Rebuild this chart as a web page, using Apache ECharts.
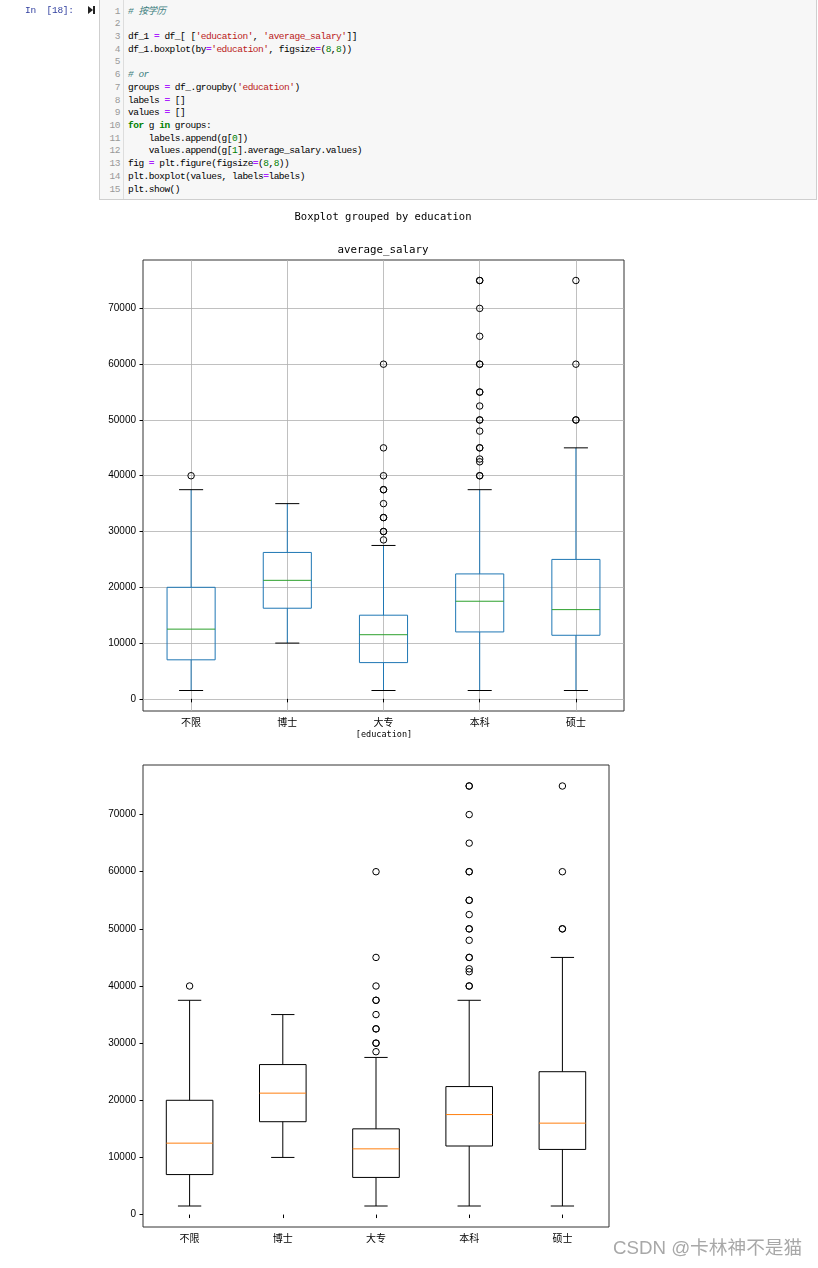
<!DOCTYPE html>
<html>
<head>
<meta charset="utf-8">
<script src="https://cdn.jsdelivr.net/npm/echarts@6/dist/echarts.min.js"></script>
<style>
  html, body { margin:0; padding:0; background:#fff; width:818px; height:1268px; overflow:hidden; }
  #chart { position:absolute; left:0; top:0; width:818px; height:1268px; }
  #prompt { position:absolute; left:25px; top:4px; font:9.5px "Liberation Mono", monospace; letter-spacing:-0.3px; color:#303F9F; line-height:13px; }
  #run { position:absolute; left:88px; top:6px; width:10px; height:9px; }
  #run .tri { position:absolute; left:0; top:0; width:0; height:0; border-left:5px solid #222; border-top:4px solid transparent; border-bottom:4px solid transparent; }
  #run .bar { position:absolute; left:5px; top:0; width:2px; height:8px; background:#222; }
  #cell { position:absolute; left:99px; top:-1px; width:718px; height:201px; border:1px solid #cfcfcf; background:#f7f7f7; box-sizing:border-box; z-index:2; }
  #gutter { position:absolute; left:0; top:0; width:24px; height:100%; border-right:1px solid #ddd; box-sizing:border-box; }
  pre { margin:0; position:absolute; top:5.5px; font:9.5px "Liberation Mono", "Noto Sans CJK SC", monospace; letter-spacing:-0.5px; line-height:12.72px; }
  #nums { left:0; width:20px; text-align:right; color:#999; }
  #code { left:28px; color:#000; }
  .c { color:#408080; font-style:italic; }
  .s { color:#BA2121; }
  .k { color:#008000; font-weight:bold; }
  .o { color:#AA22FF; font-weight:bold; }
  .n { color:#008000; }
</style>
</head>
<body>
<div id="chart"></div>
<div id="prompt">In&nbsp;&nbsp;[18]:</div>
<div id="run"><div class="tri"></div><div class="bar"></div></div>
<div id="cell">
  <div id="gutter"></div>
<pre id="nums">1
2
3
4
5
6
7
8
9
10
11
12
13
14
15</pre>
<pre id="code"><span class="c"># 按学历</span>

df_1 <span class="o">=</span> df_[ [<span class="s">'education'</span>, <span class="s">'average_salary'</span>]]
df_1.boxplot(by<span class="o">=</span><span class="s">'education'</span>, figsize<span class="o">=</span>(<span class="n">8</span>,<span class="n">8</span>))

<span class="c"># or</span>
groups <span class="o">=</span> df_.groupby(<span class="s">'education'</span>)
labels <span class="o">=</span> []
values <span class="o">=</span> []
<span class="k">for</span> g <span class="k">in</span> groups:
    labels.append(g[<span class="n">0</span>])
    values.append(g[<span class="n">1</span>].average_salary.values)
fig <span class="o">=</span> plt.figure(figsize<span class="o">=</span>(<span class="n">8</span>,<span class="n">8</span>))
plt.boxplot(values, labels<span class="o">=</span>labels)
plt.show()</pre>
</div>
<script>
// ---- data ----
const categories = ['不限', '博士', '大专', '本科', '硕士'];
const whiskerLow  = [1500, 10000, 1500, 1500, 1500];
const q1          = [7000, 16250, 6500, 12000, 11400];
const median      = [12500, 21250, 11500, 17500, 16000];
const q3          = [20000, 26250, 15000, 22400, 25000];
const whiskerHigh = [37500, 35000, 27500, 37500, 45000];
const outliers = [
  [40000],
  [],
  [28500, 30000, 30000, 32500, 32500, 35000, 37500, 37500, 40000, 45000, 60000],
  [40000, 40000, 42500, 43000, 45000, 45000, 48000, 50000, 50000, 52500, 55000, 55000, 60000, 60000, 65000, 70000, 75000, 75000],
  [50000, 50000, 60000, 75000]
];
const yTicks = [0, 10000, 20000, 30000, 40000, 50000, 60000, 70000];
const xTicks = [1, 2, 3, 4, 5];
const yMin = -2175, yMax = 78675;

const boxData = categories.map((c, i) => [i + 1, whiskerLow[i], q1[i], median[i], q3[i], whiskerHigh[i]]);
const outlierData = [];
outliers.forEach((arr, i) => arr.forEach(v => outlierData.push([i + 1, v])));

function makeRender(sty) {
  return function (params, api) {
    const x = api.value(0);
    const pLow = api.coord([x, api.value(1)]);
    const pQ1 = api.coord([x, api.value(2)]);
    const pMed = api.coord([x, api.value(3)]);
    const pQ3 = api.coord([x, api.value(4)]);
    const pHigh = api.coord([x, api.value(5)]);
    const bw = api.size([1, 0])[0] * 0.5;
    const cx = pLow[0];
    const line = (x1, y1, x2, y2, color) => ({
      type: 'line', shape: { x1, y1, x2, y2 }, style: { stroke: color, lineWidth: 1 }
    });
    return {
      type: 'group',
      children: [
        line(cx, pQ1[1], cx, pLow[1], sty.whisker),
        line(cx, pQ3[1], cx, pHigh[1], sty.whisker),
        line(cx - bw / 4, pLow[1], cx + bw / 4, pLow[1], sty.cap),
        line(cx - bw / 4, pHigh[1], cx + bw / 4, pHigh[1], sty.cap),
        { type: 'rect', shape: { x: cx - bw / 2, y: pQ3[1], width: bw, height: pQ1[1] - pQ3[1] },
          style: { fill: 'none', stroke: sty.box, lineWidth: 1 } },
        line(cx - bw / 2, pMed[1], cx + bw / 2, pMed[1], sty.median)
      ]
    };
  };
}

function xAxis(gi, grid) {
  return {
    type: 'value', gridIndex: gi, min: 0.5, max: 5.5, splitNumber: 5,
    axisLine: { show: false },
    axisTick: { show: true, length: 3.5, customValues: xTicks, lineStyle: { color: '#000', width: 1 } },
    axisLabel: {
      customValues: xTicks, margin: 6, fontSize: 10, color: '#000',
      fontFamily: '"Noto Sans CJK SC", sans-serif',
      formatter: v => (Math.abs(v - Math.round(v)) < 1e-6 && categories[Math.round(v) - 1]) || ''
    },
    splitLine: { show: grid, lineStyle: { color: '#b0b0b0', width: 0.8 } }
  };
}
function yAxis(gi, grid) {
  return {
    type: 'value', gridIndex: gi, min: yMin, max: yMax, splitNumber: 8,
    axisLine: { show: false },
    axisTick: { show: true, length: 3.5, customValues: yTicks, lineStyle: { color: '#000', width: 1 } },
    axisLabel: {
      customValues: yTicks, margin: 7, fontSize: 10, color: '#000',
      fontFamily: '"Liberation Sans", Arial, sans-serif',
      formatter: v => (v >= 0 && v % 10000 === 0) ? String(v) : ''
    },
    splitLine: { show: grid, lineStyle: { color: '#b0b0b0', width: 0.8 } }
  };
}

const chart = echarts.init(document.getElementById('chart'), null, { renderer: 'canvas' });
chart.setOption({
  animation: false,
  backgroundColor: '#fff',
  grid: [
    { left: 143, top: 260, width: 481, height: 451, show: true, borderColor: '#333', borderWidth: 1, backgroundColor: 'transparent' },
    { left: 143, top: 765, width: 466, height: 462, show: true, borderColor: '#333', borderWidth: 1, backgroundColor: 'transparent' }
  ],
  xAxis: [xAxis(0, true), xAxis(1, false)],
  yAxis: [yAxis(0, true), yAxis(1, false)],
  graphic: [
    { type: 'text', x: 383, y: 217, style: { text: 'Boxplot grouped by education', font: '10.5px "DejaVu Sans Mono", monospace', fill: '#000', textAlign: 'center', textVerticalAlign: 'middle' } },
    { type: 'text', x: 383, y: 250, style: { text: 'average_salary', font: '10.8px "DejaVu Sans Mono", monospace', fill: '#000', textAlign: 'center', textVerticalAlign: 'middle' } },
    { type: 'text', x: 384, y: 735, style: { text: '[education]', font: '8.5px "DejaVu Sans Mono", monospace', fill: '#000', textAlign: 'center', textVerticalAlign: 'middle' } },
    { type: 'text', x: 613, y: 1249, style: { text: 'CSDN @卡林神不是猫', font: '18.7px "Liberation Sans", "Noto Sans CJK SC", sans-serif', fill: '#a8a8a8', textAlign: 'left', textVerticalAlign: 'middle' } }
  ],
  series: [
    { type: 'custom', xAxisIndex: 0, yAxisIndex: 0, data: boxData, encode: { x: 0, y: [1, 2, 3, 4, 5] }, z: 3,
      renderItem: makeRender({ box: '#1f77b4', whisker: '#1f77b4', cap: '#000', median: '#2ca02c' }) },
    { type: 'scatter', xAxisIndex: 0, yAxisIndex: 0, data: outlierData, symbol: 'circle', symbolSize: 6.5, z: 4,
      itemStyle: { color: 'rgba(0,0,0,0)', borderColor: '#000', borderWidth: 1, opacity: 1 } },
    { type: 'custom', xAxisIndex: 1, yAxisIndex: 1, data: boxData, encode: { x: 0, y: [1, 2, 3, 4, 5] }, z: 3,
      renderItem: makeRender({ box: '#000', whisker: '#000', cap: '#000', median: '#ff7f0e' }) },
    { type: 'scatter', xAxisIndex: 1, yAxisIndex: 1, data: outlierData, symbol: 'circle', symbolSize: 6.5, z: 4,
      itemStyle: { color: 'rgba(0,0,0,0)', borderColor: '#000', borderWidth: 1, opacity: 1 } }
  ]
});
</script>
</body>
</html>
